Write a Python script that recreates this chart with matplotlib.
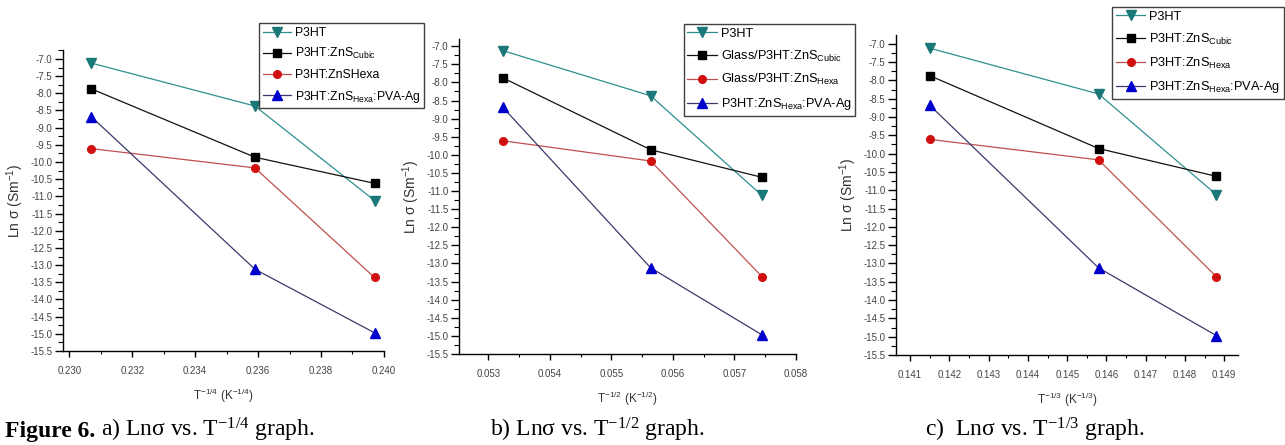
import numpy as np
import matplotlib
matplotlib.use('Agg')
import matplotlib.pyplot as plt
from matplotlib.ticker import MultipleLocator, FormatStrFormatter

# x values for the three panels (T = 353, 323, 303 K)
x_quarter = [0.2307, 0.2359, 0.2397]
x_half = [0.05323, 0.05564, 0.05745]
x_third = [0.1415, 0.1458, 0.1488]

# Ln sigma values (same in all panels)
p3ht = [-7.12, -8.37, -11.12]
zns_cubic = [-7.87, -9.86, -10.62]
zns_hexa = [-9.61, -10.17, -13.36]
zns_hexa_pva = [-8.68, -13.12, -14.97]

labels_a = ['P3HT', r'P3HT:ZnS$_{\mathregular{Cubic}}$', 'P3HT:ZnSHexa',
            r'P3HT:ZnS$_{\mathregular{Hexa}}$:PVA-Ag']
labels_b = ['P3HT', r'Glass/P3HT:ZnS$_{\mathregular{Cubic}}$', r'Glass/P3HT:ZnS$_{\mathregular{Hexa}}$',
            r'P3HT:ZnS$_{\mathregular{Hexa}}$:PVA-Ag']
labels_c = ['P3HT', r'P3HT:ZnS$_{\mathregular{Cubic}}$', r'P3HT:ZnS$_{\mathregular{Hexa}}$',
            r'P3HT:ZnS$_{\mathregular{Hexa}}$:PVA-Ag']

plt.rcParams['font.family'] = 'Liberation Sans'
plt.rcParams['mathtext.default'] = 'regular'

styles = [
    dict(color='#2f8f8f', marker='v', mfc='#1a7878', mec='#1a7878', ms=6.5),
    dict(color='#111111', marker='s', mfc='#000000', mec='#000000', ms=5.5),
    dict(color='#c05050', marker='o', mfc='#d01010', mec='#d01010', ms=5.5),
    dict(color='#3a3a6a', marker='^', mfc='#0000cc', mec='#0000cc', ms=7),
]
series = [p3ht, zns_cubic, zns_hexa, zns_hexa_pva]

fig = plt.figure(figsize=(12.85, 4.45), dpi=100)

panels = [
    dict(pos=[0.049, 0.2112, 0.2498, 0.6764], x=x_quarter, xlim=(0.2298, 0.2400), ytop=-6.74,
         xmaj=0.002, xmin=0.001, xlabel=r'T$^{-1/4}$ (K$^{-1/4}$)', labels=labels_a,
         leg=(0.2016, 0.948), legfs=8.8, legsp=0.62),
    dict(pos=[0.3572, 0.2045, 0.2620, 0.7079], x=x_half, xlim=(0.05252, 0.0580), ytop=-6.80,
         xmaj=0.001, xmin=0.0005, xlabel=r'T$^{-1/2}$ (K$^{-1/2}$)', labels=labels_b,
         leg=(0.532, 0.946), legfs=9.2, legsp=0.68),
    dict(pos=[0.6973, 0.2022, 0.2661, 0.7191], x=x_third, xlim=(0.14064, 0.14935), ytop=-6.76,
         xmaj=0.001, xmin=0.0005, xlabel=r'T$^{-1/3}$ (K$^{-1/3}$)', labels=labels_c,
         leg=(0.8654, 0.984), legfs=9.2, legsp=0.68),
]

for p in panels:
    ax = fig.add_axes(p['pos'])
    for ys, st, lab in zip(series, styles, p['labels']):
        ax.plot(p['x'], ys, lw=0.9, label=lab, **st)
    ax.set_xlim(*p['xlim'])
    ax.set_ylim(-15.5, p['ytop'])
    ax.yaxis.set_major_locator(MultipleLocator(0.5))
    ax.yaxis.set_minor_locator(MultipleLocator(0.25))
    ax.yaxis.set_major_formatter(FormatStrFormatter('%.1f'))
    ax.xaxis.set_major_locator(MultipleLocator(p['xmaj']))
    ax.xaxis.set_minor_locator(MultipleLocator(p['xmin']))
    ax.xaxis.set_major_formatter(FormatStrFormatter('%.3f'))
    for s in ['top', 'right']:
        ax.spines[s].set_visible(False)
    for s in ['left', 'bottom']:
        ax.spines[s].set_linewidth(1.0)
    ax.tick_params(axis='y', which='major', direction='out', length=6, width=1, labelsize=7,
                   labelcolor='#444444', pad=1.5)
    ax.tick_params(axis='y', which='minor', direction='out', length=3.5, width=0.8)
    ax.tick_params(axis='x', which='major', direction='out', length=4.5, width=1, labelsize=7,
                   labelcolor='#444444', pad=6)
    ax.tick_params(axis='x', which='minor', direction='out', length=2.5, width=0.8)
    ax.set_xlabel(p['xlabel'], fontsize=8.5, color='#333333', labelpad=8)
    ax.set_ylabel('Ln σ (Sm$^{-1}$)', fontsize=10, color='#333333', labelpad=3)
    leg = fig.legend(*ax.get_legend_handles_labels(), loc='upper left', bbox_to_anchor=p['leg'],
                     fontsize=p['legfs'], frameon=True, fancybox=False, edgecolor='#111111',
                     handlelength=2.3, handletextpad=0.3, labelspacing=p['legsp'],
                     borderpad=0.3, borderaxespad=0)
    leg.get_frame().set_linewidth(1.0)

# captions under the panels
serif = 'Liberation Serif'
cap_y = 0.018
bold = fig.text(0.004, cap_y, 'Figure 6.', fontsize=17, fontweight='bold', family=serif)
renderer = fig.canvas.get_renderer()
bb = bold.get_window_extent(renderer).transformed(fig.transFigure.inverted())
fig.text(bb.x1 + 0.004, cap_y, 'a) Lnσ vs. T$^{-1/4}$ graph.', fontsize=17, family=serif)
fig.text(0.381, cap_y, 'b) Lnσ vs. T$^{-1/2}$ graph.', fontsize=17, family=serif)
fig.text(0.720, cap_y, 'c)  Lnσ vs. T$^{-1/3}$ graph.', fontsize=17, family=serif)

fig.savefig('out.png', dpi=100)
